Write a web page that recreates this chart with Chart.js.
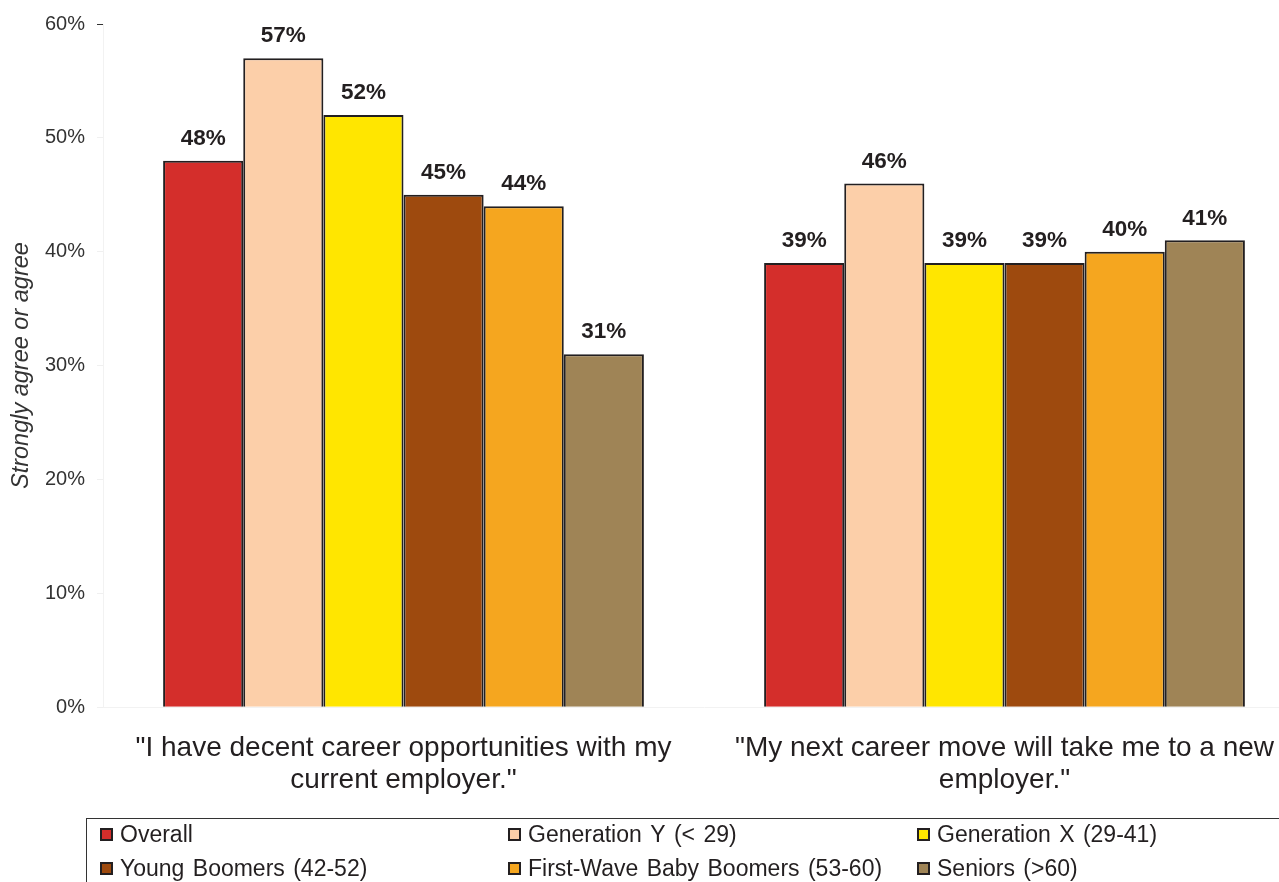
<!DOCTYPE html>
<html>
<head>
<meta charset="utf-8">
<script src="https://cdn.jsdelivr.net/npm/chart.js@4"></script>
<style>
  html, body { margin: 0; padding: 0; background: #fff; overflow: hidden; }
  #wrap { width: 1310px; height: 882px; position: relative; }
</style>
</head>
<body>
<div id="wrap"><canvas id="careerChart"></canvas></div>
<script>
var categories = [
    ['"I have decent career opportunities with my', 'current employer."'],
    ['"My next career move will take me to a new', 'employer."']
];
var groupNames = ['Overall', 'Generation Y (< 29)', 'Generation X (29-41)', 'Young Boomers (42-52)', 'First-Wave Baby Boomers (53-60)', 'Seniors (>60)'];
var overall = [48, 39];
var genY = [57, 46];
var genX = [52, 39];
var youngBoomers = [45, 39];
var firstWave = [44, 40];
var seniors = [31, 41];
var yTicks = [0, 10, 20, 30, 40, 50, 60];

var colors = ['#d42e2b', '#fccfa9', '#ffe600', '#9e4a0e', '#f5a61f', '#9f8456'];
var seriesValues = [overall, genY, genX, youngBoomers, firstWave, seniors];
var FONT = '"Liberation Sans", Arial, sans-serif';

var datasets = seriesValues.map(function(vals, i) {
    return {
        label: groupNames[i],
        data: vals,
        backgroundColor: colors[i],
        borderColor: '#231f20',
        borderWidth: 2,
        borderSkipped: 'bottom',
        categoryPercentage: 0.8,
        barPercentage: 1.0
    };
});

// value labels above each bar
var valueLabels = {
    id: 'valueLabels',
    afterDatasetsDraw: function(chart) {
        var ctx = chart.ctx;
        ctx.save();
        ctx.font = 'bold 22.5px ' + FONT;
        ctx.fillStyle = '#231f20';
        ctx.textAlign = 'center';
        ctx.textBaseline = 'middle';
        chart.data.datasets.forEach(function(ds, i) {
            chart.getDatasetMeta(i).data.forEach(function(bar, j) {
                ctx.fillText(ds.data[j] + '%', bar.x, bar.y - 22);
            });
        });
        ctx.restore();
    }
};

// boxed legend in three columns, cut at the right like the original
var gridLegend = {
    id: 'gridLegend',
    afterDraw: function(chart) {
        var ctx = chart.ctx;
        ctx.save();
        ctx.strokeStyle = '#333';
        ctx.lineWidth = 1;
        ctx.strokeRect(86.5, 818.5, 1400, 200);
        var colX = [100, 508, 917];
        var rowY = [835, 869];
        ctx.font = '23px ' + FONT;
        if ('wordSpacing' in ctx) ctx.wordSpacing = '2px';
        ctx.textBaseline = 'middle';
        ctx.textAlign = 'left';
        chart.data.datasets.forEach(function(ds, i) {
            var x = colX[i % 3], y = rowY[Math.floor(i / 3)];
            ctx.fillStyle = ds.backgroundColor;
            ctx.fillRect(x + 1, y - 6, 11, 11);
            ctx.strokeStyle = '#231f20';
            ctx.lineWidth = 2;
            ctx.strokeRect(x + 1, y - 6, 11, 11);
            ctx.fillStyle = '#231f20';
            ctx.fillText(ds.label, x + 20, y + 1);
        });
        ctx.restore();
    }
};

var ctx = document.getElementById('careerChart').getContext('2d');
var careerChart = new Chart(ctx, {
    type: 'bar',
    data: {
        labels: categories,
        datasets: datasets
    },
    options: {
        responsive: true,
        maintainAspectRatio: false,
        animation: false,
        layout: {
            padding: { top: 22, right: 5, bottom: 61, left: 0 }
        },
        scales: {
            x: {
                grid: { display: false, drawTicks: false },
                border: { color: '#f2f2f2' },
                ticks: {
                    color: '#231f20',
                    font: { family: FONT, size: 28, lineHeight: 1.14 },
                    padding: 25,
                    maxRotation: 0,
                    autoSkip: false
                }
            },
            y: {
                min: 0,
                max: 60,
                afterBuildTicks: function(scale) {
                    scale.ticks = yTicks.map(function(v) { return { value: v }; });
                },
                afterFit: function(scale) { scale.width = 103; },
                grid: {
                    drawOnChartArea: false,
                    drawTicks: true,
                    tickLength: 6,
                    color: function(c) { return c.tick && c.tick.value === 60 ? '#333' : '#f0f0f0'; }
                },
                border: { color: '#f2f2f2' },
                ticks: {
                    color: '#333',
                    padding: 12,
                    font: { family: FONT, size: 20 },
                    callback: function(v) { return v + '%'; }
                },
                title: {
                    display: true,
                    text: 'Strongly agree or agree',
                    color: '#333',
                    font: { family: FONT, size: 23.5, style: 'italic' },
                    padding: { top: 7, bottom: 0 }
                }
            }
        },
        plugins: {
            legend: { display: false },
            tooltip: { enabled: false }
        }
    },
    plugins: [valueLabels, gridLegend]
});
</script>
</body>
</html>
